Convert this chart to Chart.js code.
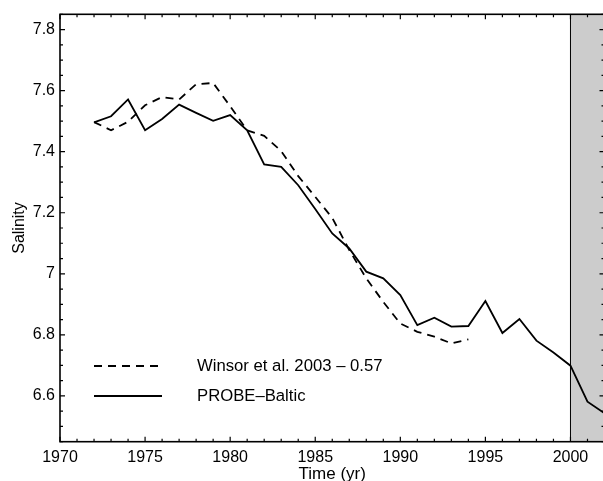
<!DOCTYPE html>
<html>
<head>
<meta charset="utf-8">
<script src="https://cdn.jsdelivr.net/npm/chart.js@4.4.1/dist/chart.umd.min.js"></script>
<style>
  html, body { margin: 0; padding: 0; overflow: hidden; background: #fff; }
  canvas { display: block; }
</style>
</head>
<body>
<canvas id="salinity" width="606" height="490" style="width:606px;height:490px"></canvas>
<script>
// Baltic Sea mean salinity, model run vs. shifted observational estimate
const probeYears = [1972, 1973, 1974, 1975, 1976, 1977, 1978, 1979, 1980, 1981,
                    1982, 1983, 1984, 1985, 1986, 1987, 1988, 1989, 1990, 1991,
                    1992, 1993, 1994, 1995, 1996, 1997, 1998, 1999, 2000, 2001, 2002];
const probeBaltic = [7.496, 7.516, 7.571, 7.470, 7.507, 7.554, 7.527, 7.501, 7.520, 7.470,
                     7.358, 7.350, 7.290, 7.212, 7.132, 7.083, 7.007, 6.985, 6.930, 6.832,
                     6.856, 6.827, 6.829, 6.911, 6.806, 6.852, 6.781, 6.742, 6.699, 6.581, 6.543];

const winsorYears = [1972, 1973, 1974, 1975, 1976, 1977, 1978, 1979, 1980, 1981, 1982, 1983,
                     1984, 1985, 1986, 1987, 1988, 1989, 1990, 1991, 1992, 1993, 1994];
const winsorShifted = [7.497, 7.470, 7.498, 7.552, 7.579, 7.571, 7.621, 7.625, 7.549, 7.470, 7.452, 7.402,
                       7.320, 7.252, 7.183, 7.078, 6.985, 6.908, 6.837, 6.810, 6.794, 6.772, 6.785];

const seriesNames = ['Winsor et al. 2003 \u2013 0.57', 'PROBE\u2013Baltic'];

const xTicks = [1970, 1975, 1980, 1985, 1990, 1995, 2000];
const xTickLabels = ['1970', '1975', '1980', '1985', '1990', '1995', '2000'];
const yTicks = [6.6, 6.8, 7, 7.2, 7.4, 7.6, 7.8];
const yTickLabels = ['6.6', '6.8', '7', '7.2', '7.4', '7.6', '7.8'];

const xRange = [1970, 2002];
const yRange = [6.45, 7.85];
const shadedPeriod = [2000, 2002];

const FONT = '"Liberation Sans", Arial, Helvetica, sans-serif';
Chart.defaults.font.family = FONT;
Chart.defaults.color = '#000';

const toPoints = (xs, ys) => xs.map((x, i) => ({ x, y: ys[i] }));

// Shaded period, boxed frame with inward major/minor ticks, and the in-plot legend
const frameDecor = {
  id: 'frameDecor',
  beforeDatasetsDraw(chart) {
    const { ctx, chartArea: a, scales: { x } } = chart;
    const x0 = x.getPixelForValue(shadedPeriod[0]);
    const x1 = x.getPixelForValue(shadedPeriod[1]);
    ctx.save();
    ctx.fillStyle = '#cccccc';
    ctx.fillRect(x0, a.top, x1 - x0, a.bottom - a.top);
    ctx.strokeStyle = '#000';
    ctx.lineWidth = 1;
    ctx.beginPath();
    ctx.moveTo(x0, a.top);
    ctx.lineTo(x0, a.bottom);
    ctx.stroke();
    ctx.restore();
  },
  afterDatasetsDraw(chart) {
    const { ctx, chartArea: a, scales: { x, y } } = chart;
    ctx.save();
    ctx.strokeStyle = '#000';
    ctx.lineWidth = 1.2;
    ctx.beginPath();
    for (let yr = xRange[0]; yr <= xRange[1]; yr++) {
      const px = x.getPixelForValue(yr);
      const len = yr % 5 === 0 ? 5 : 3;
      ctx.moveTo(px, a.bottom); ctx.lineTo(px, a.bottom - len);
      ctx.moveTo(px, a.top); ctx.lineTo(px, a.top + len);
    }
    for (let i = Math.round(yRange[0] * 20); i <= Math.round(yRange[1] * 20); i++) {
      const py = y.getPixelForValue(i / 20);
      const len = i % 4 === 0 ? 5 : 3;
      ctx.moveTo(a.left, py); ctx.lineTo(a.left + len, py);
      ctx.moveTo(a.right, py); ctx.lineTo(a.right - len, py);
    }
    ctx.stroke();
    ctx.lineWidth = 1.6;
    ctx.strokeRect(a.left, a.top, a.right - a.left, a.bottom - a.top);

    // legend
    const entries = chart.data.datasets;
    const rows = [366, 396];
    ctx.font = '16.7px ' + FONT;
    ctx.fillStyle = '#000';
    ctx.textBaseline = 'middle';
    ctx.textAlign = 'left';
    entries.forEach((ds, i) => {
      ctx.lineWidth = 2;
      ctx.setLineDash(ds.borderDash || []);
      ctx.beginPath();
      ctx.moveTo(94, rows[i]);
      ctx.lineTo(162, rows[i]);
      ctx.stroke();
      ctx.setLineDash([]);
      ctx.fillText(ds.label, 197, rows[i] + 0.5);
    });
    ctx.restore();
  }
};

new Chart(document.getElementById('salinity'), {
  type: 'line',
  data: {
    datasets: [
      {
        label: seriesNames[0],
        data: toPoints(winsorYears, winsorShifted),
        borderColor: '#000',
        borderWidth: 1.8,
        borderDash: [8, 6],
        pointRadius: 0,
        tension: 0,
        fill: false
      },
      {
        label: seriesNames[1],
        data: toPoints(probeYears, probeBaltic),
        borderColor: '#000',
        borderWidth: 1.8,
        pointRadius: 0,
        tension: 0,
        fill: false
      }
    ]
  },
  options: {
    responsive: false,
    animation: false,
    devicePixelRatio: 1,
    layout: { padding: { top: 14.3, right: 1.5, bottom: 0, left: 0 } },
    plugins: { legend: { display: false }, tooltip: { enabled: false } },
    scales: {
      x: {
        type: 'linear',
        min: xRange[0],
        max: xRange[1],
        grid: { display: false, drawTicks: false },
        border: { display: false },
        afterBuildTicks: s => { s.ticks = xTicks.map(v => ({ value: v })); },
        afterFit: s => { s.height = 48.3; s.paddingLeft = 0; s.paddingRight = 0; },
        ticks: {
          padding: 6,
          maxRotation: 0,
          autoSkip: false,
          font: { size: 16 },
          color: '#000',
          callback: v => xTickLabels[xTicks.indexOf(v)]
        },
        title: {
          display: true,
          text: 'Time (yr)',
          color: '#000',
          font: { size: 17 },
          padding: { top: 0, bottom: 5 }
        }
      },
      y: {
        type: 'linear',
        min: yRange[0],
        max: yRange[1],
        grid: { display: false, drawTicks: false },
        border: { display: false },
        afterBuildTicks: s => { s.ticks = yTicks.map(v => ({ value: v })); },
        afterFit: s => { s.width = 60; s.paddingTop = 0; s.paddingBottom = 0; },
        ticks: {
          padding: 5,
          autoSkip: false,
          font: { size: 16 },
          color: '#000',
          callback: v => yTickLabels[yTicks.indexOf(v)]
        },
        title: {
          display: true,
          text: 'Salinity',
          color: '#000',
          font: { size: 16 },
          padding: { top: 9.5, bottom: 0 }
        }
      }
    }
  },
  plugins: [frameDecor]
});
</script>
</body>
</html>
